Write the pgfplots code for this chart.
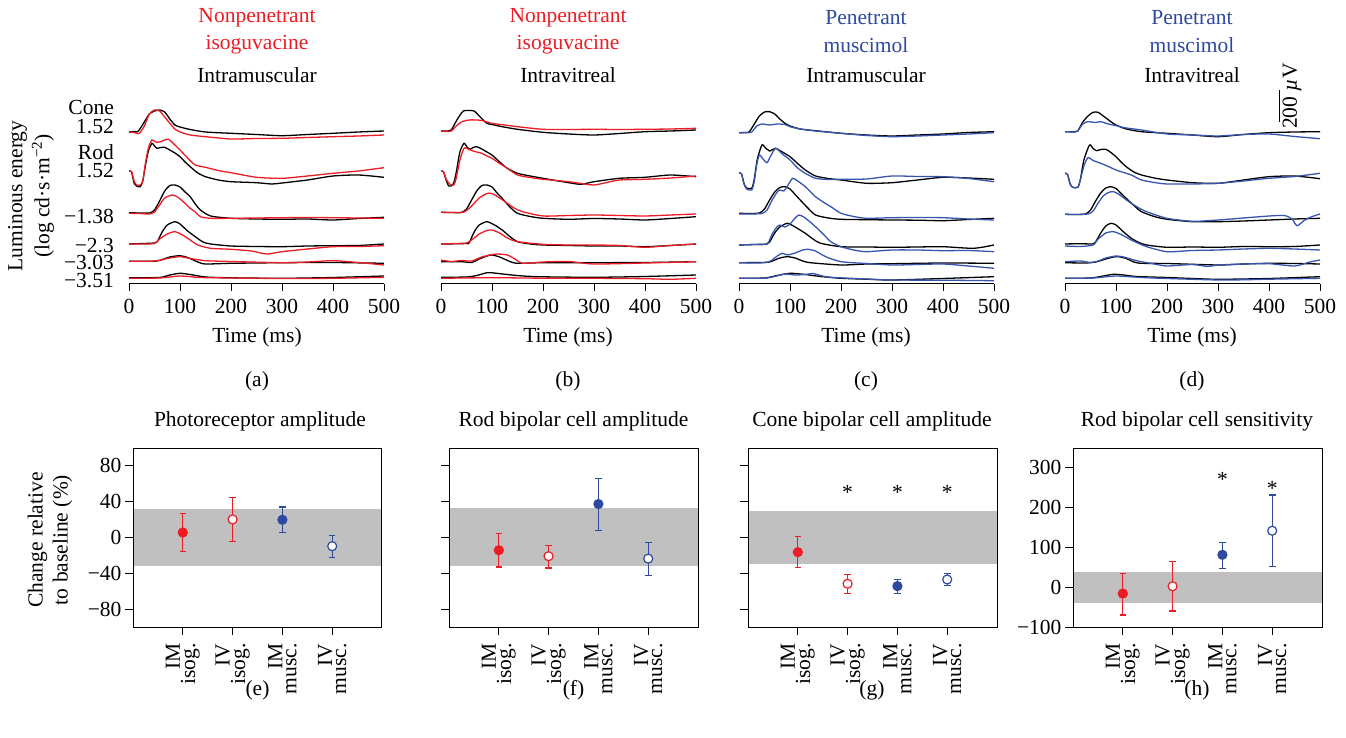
\documentclass[border=0pt]{standalone}
\usepackage{pgfplots}
\pgfplotsset{compat=1.18}
\usepackage{fontspec}
\setmainfont{Liberation Serif}
\definecolor{myred}{RGB}{237,28,36}
\definecolor{myblue}{RGB}{46,74,158}
\definecolor{tblue}{RGB}{55,85,175}
\definecolor{band}{RGB}{192,192,192}
\pgfplotsset{
 toptrace/.style={scale only axis, width=255pt, height=180pt, xmin=0, xmax=500, ymin=0, ymax=180,
   axis x line=bottom, axis y line=none, axis line style={-, line width=1pt},
   xtick={0,100,200,300,400,500}, xticklabels={0,100,200,300,400,500},
   xticklabel style={yshift=-5pt},
   tick align=outside, major tick length=7pt, tick style={line width=1pt, black},
   clip=false, every axis plot/.append style={line width=1.3pt, no marks, smooth, tension=0.4}},
 bottomplot/.style={scale only axis, width=249pt, height=179pt, xmin=0, xmax=5,
   axis on top, axis line style={line width=1pt}, tick style={line width=1pt, black},
   xtick={1,2,3,4}, xticklabels={{IM\\isog.},{IV\\isog.},{IM\\musc.},{IV\\musc.}},
   xticklabel style={rotate=90, anchor=east, align=right, font=\fontsize{21.5}{14}\selectfont},
   xticklabel shift=5pt,
   tick align=outside, major tick length=8pt, tick pos=left, clip=false},
 ebar/.style={only marks, mark=*, mark size=4.5pt, line width=1.2pt,
   error bars/.cd, y dir=both, y explicit,
   error bar style={line width=1.2pt},
   error mark options={rotate=90, mark size=3.3pt, line width=1.2pt}},
 openm/.style={mark options={fill=white}},
}
\begin{document}
\begin{tikzpicture}[x=1pt, y=1pt, font=\fontsize{21.5}{26}\selectfont]
\useasboundingbox (0pt,0pt) rectangle (1346pt,737pt);

% ---------- top titles ----------
\node[myred] at (257pt,719pt) {Nonpenetrant};
\node[myred] at (257pt,692pt) {isoguvacine};
\node at (257pt,662pt) {Intramuscular};
\node[myred] at (568pt,719pt) {Nonpenetrant};
\node[myred] at (568pt,692pt) {isoguvacine};
\node at (568pt,662pt) {Intravitreal};
\node[myblue] at (866pt,719pt) {Penetrant};
\node[myblue] at (866pt,692pt) {muscimol};
\node at (866pt,662pt) {Intramuscular};
\node[myblue] at (1192pt,719pt) {Penetrant};
\node[myblue] at (1192pt,692pt) {muscimol};
\node at (1192pt,662pt) {Intravitreal};

% left labels
\begin{scope}[every node/.style={anchor=east, inner sep=0pt}]
\node at (114pt,630pt) {Cone};
\node at (114pt,610pt) {1.52};
\node at (114pt,585pt) {Rod};
\node at (114pt,566pt) {1.52};
\node at (114pt,520pt) {−1.38};
\node at (114pt,491pt) {−2.3};
\node at (114pt,474pt) {−3.03};
\node at (114pt,456pt) {−3.51};
\end{scope}
\node[rotate=90, align=center, font=\fontsize{21.5}{27}\selectfont] at (31pt,541pt) {Luminous energy\\(log cd·s·m\textsuperscript{−2})};

% x labels
\foreach \cx/\lab in {257/a,568/b,866/c,1192/d}{
  \node at (\cx pt,400pt) {Time (ms)};
  \node at (\cx pt,356pt) {(\lab)};
}
% bottom titles
\node at (260pt,316pt) {Photoreceptor amplitude};
\node at (573.5pt,316pt) {Rod bipolar cell amplitude};
\node at (872pt,316pt) {Cone bipolar cell amplitude};
\node at (1197pt,316pt) {Rod bipolar cell sensitivity};
\foreach \cx/\lab in {257.5/e,573.5/f,872/g,1197/h}{
  \node at (\cx pt,47pt) {(\lab)};
}
\node[rotate=90, align=center, font=\fontsize{21.5}{25}\selectfont] at (50pt,197pt) {Change relative\\to baseline (\%)};

% ================= (a) =================
\begin{axis}[toptrace, at={(129pt,453pt)}, anchor=south west]
\addplot[black] coordinates {(0,152)(10,152.5)(15,152)(20,154)(30,162)(40,170)(50,173)(60,174)(70,172)(80,165)(90,159)(100,157)(120,154.5)(150,152)(200,150.7)(250,149.5)(300,148.3)(350,149.5)(400,150.7)(450,152)(500,153)};
\addplot[myred] coordinates {(0,152)(10,151.5)(20,150.5)(30,158)(40,170)(50,174)(60,173)(70,167)(80,160.7)(90,155)(100,152)(120,149)(150,147.3)(200,145)(250,145.5)(300,145.7)(350,146.5)(400,147.3)(450,148)(500,149)};
\addplot[black] coordinates {(0,113)(5,112)(10,101)(15,98)(22,97.3)(27,103)(32,118)(38,133)(45,140.7)(50,138)(55,135.7)(62,136.5)(70,136.7)(80,134)(90,131)(100,127.3)(110,122)(120,117.3)(135,111)(150,107.3)(175,104)(200,102.3)(250,101.3)(280,100)(300,101)(350,104)(400,108)(450,109)(500,106.7)};
\addplot[myred] coordinates {(0,113)(5,112.5)(10,103)(15,99)(22,99)(27,103)(32,120)(38,136)(45,144)(52,142)(60,142)(70,144)(78,144.7)(90,139)(100,134)(115,126)(130,119)(150,116.7)(175,113.5)(200,111.3)(250,106.7)(300,105.7)(350,108)(400,110.7)(450,113)(480,115)(500,116.3)};
\addplot[black] coordinates {(0,71.3)(20,71)(40,71)(50,74)(60,83)(70,93)(80,98.5)(90,99)(100,97)(110,92)(120,87.3)(130,80)(140,74)(160,68)(200,65.7)(250,65)(300,64.7)(350,65)(400,64)(450,65.5)(500,66.7)};
\addplot[myred] coordinates {(0,70.7)(20,70.5)(40,70)(50,72)(60,79)(70,86)(85,89)(95,87)(105,83)(120,75.7)(130,72)(140,67.3)(160,65.7)(200,65.7)(250,66)(300,66.3)(350,66.5)(400,66.3)(450,66)(500,65.7)};
\addplot[black] coordinates {(0,40)(30,40.5)(50,41)(55,42)(65,52)(75,59)(90,62.3)(100,60)(115,53)(130,47.3)(145,42)(160,40)(200,38)(250,37.5)(300,37.3)(350,38)(400,38.3)(450,38.5)(500,40)};
\addplot[myred] coordinates {(0,40)(30,40)(50,40.5)(60,45)(75,50)(90,52.3)(105,49)(120,44)(135,39)(160,35.7)(200,34.7)(240,33)(270,30)(300,32.3)(350,35)(400,37.3)(450,37.5)(500,38.3)};
\addplot[black] coordinates {(0,22.7)(50,22.7)(60,23.5)(80,27)(100,28.3)(115,26.5)(135,22)(150,20)(200,20.7)(300,21.3)(400,21.5)(500,20.7)};
\addplot[myred] coordinates {(0,22.7)(50,23)(80,26)(100,27.3)(120,25.5)(150,23.3)(200,22.5)(300,21.3)(350,22)(400,23.3)(450,21.5)(500,19)};
\addplot[black] coordinates {(0,6.3)(60,6.5)(80,9)(100,10.7)(120,9.5)(150,7)(200,6.2)(300,5.7)(400,6.5)(500,8)};
\addplot[myred] coordinates {(0,5.7)(60,6)(100,8)(140,6.5)(200,6)(300,5.5)(400,5.7)(500,6.7)};
\end{axis}

% ================= (b) =================
\begin{axis}[toptrace, at={(441pt,453pt)}, anchor=south west]
\addplot[black] coordinates {(0,153)(10,153)(20,154)(30,163)(40,171)(45,173.3)(55,173.5)(65,173)(75,168)(90,160.7)(105,159)(120,157.3)(150,154.7)(200,151.7)(250,150)(300,149)(350,150.5)(400,152.3)(450,153)(500,154)};
\addplot[myred] coordinates {(0,153)(10,152.5)(20,153)(30,158)(40,162)(55,164)(70,164)(80,163.5)(100,160.7)(125,159)(150,157.3)(200,154.7)(250,154.5)(300,154.7)(350,154.5)(400,154.7)(450,155)(500,155.7)};
\addplot[black] coordinates {(0,113.3)(5,112)(10,104)(15,98)(20,98)(25,101)(30,112)(37,132)(45,140.7)(51,137)(57,134.7)(63,136.5)(70,137.3)(80,135)(90,132)(100,129)(115,122)(130,115.7)(150,110.7)(175,108)(200,105.7)(250,101.3)(275,99.7)(300,102.3)(350,105.7)(400,106.7)(450,109)(500,107.3)};
\addplot[myred] coordinates {(0,113.3)(5,112)(10,105)(17,100)(25,99)(30,106)(37,124)(45,135.7)(50,135.7)(60,133.5)(70,132)(80,130.7)(90,128)(100,125.7)(115,120.5)(130,115.7)(150,109)(175,106.5)(200,104.7)(250,102.3)(275,100.5)(300,99)(325,101.5)(350,104)(400,104.7)(450,106)(500,108)};
\addplot[black] coordinates {(0,71.7)(20,71.5)(40,71.5)(50,75)(60,84)(70,93)(80,98.5)(90,99)(100,97)(110,91)(120,85.7)(135,77)(150,70.7)(175,67.5)(200,65.7)(250,64.7)(300,65.5)(350,65)(400,64)(450,65.5)(500,67.3)};
\addplot[myred] coordinates {(0,71.7)(20,71.5)(45,72)(60,78)(75,86)(90,90.5)(100,90.5)(115,86)(130,80.7)(145,75.5)(160,72.3)(200,68)(250,68.5)(300,69)(350,68.5)(400,68)(450,69)(500,70)};
\addplot[black] coordinates {(0,40)(30,40.2)(50,40.5)(55,41)(65,52)(75,59)(90,62.3)(105,59)(120,54)(135,47.5)(150,42.3)(175,40)(200,39)(250,38.5)(300,38)(350,38)(400,37.3)(450,38.5)(500,40)};
\addplot[myred] coordinates {(0,40)(30,40.5)(50,41)(60,44)(75,50)(90,53.5)(100,54)(115,51)(130,46)(150,42.3)(200,39.7)(250,39)(300,39)(350,38.5)(400,36.7)(450,38.5)(500,40)};
\addplot[black] coordinates {(0,22.3)(40,22.3)(60,21.5)(75,25)(90,28)(100,29)(115,27)(135,22.5)(150,20.7)(200,21.3)(300,21.3)(400,21.5)(500,22.3)};
\addplot[myred] coordinates {(0,24)(20,22.5)(40,23.5)(60,23)(80,27)(100,29.5)(110,30)(130,29)(145,25)(160,20.7)(200,22)(250,22.5)(300,20)(400,21)(500,22.3)};
\addplot[black] coordinates {(0,6.7)(50,7)(70,8.5)(90,11.3)(100,11.2)(130,9.5)(160,8)(200,7.2)(300,6.7)(400,7.5)(500,9)};
\addplot[myred] coordinates {(0,5.7)(100,6.3)(200,5.8)(300,5.7)(400,5.3)(450,4.7)(500,5.7)};
\end{axis}

% ================= (c) =================
\begin{axis}[toptrace, at={(739pt,453pt)}, anchor=south west]
\addplot[black] coordinates {(0,151.3)(15,151.5)(20,152)(30,160)(40,168)(50,172)(60,172.3)(70,170)(80,165)(90,160.7)(100,158)(120,155)(150,153.3)(200,150.7)(250,149)(300,148)(350,149)(400,150)(450,151.5)(500,152.3)};
\addplot[tblue] coordinates {(0,151.3)(20,151.3)(25,152)(35,158)(45,160)(60,159)(75,160)(90,159.5)(100,157.3)(120,155)(150,153)(200,150.7)(250,148.5)(300,147.3)(350,148)(400,149)(450,150)(500,151.3)};
\addplot[black] coordinates {(0,111.3)(5,110)(10,100)(15,96)(25,95.7)(30,105)(36,125)(45,139)(52,136)(60,133)(66,134.5)(72,135.7)(85,132)(100,127.3)(115,120.5)(130,114)(150,108)(175,105.5)(200,104)(250,100.7)(300,101.3)(350,104)(400,106.7)(450,106)(500,104.7)};
\addplot[tblue] coordinates {(0,111.3)(5,110)(10,100)(15,95)(25,94)(30,103)(35,120)(40,129)(47,125)(55,121.3)(62,128)(72,135.7)(85,130)(100,124)(115,116)(130,110.7)(150,105.7)(175,104.5)(200,104.7)(250,105)(300,108)(350,107.5)(400,107.3)(450,105.5)(500,102.3)};
\addplot[black] coordinates {(0,70.7)(20,70.5)(40,71)(50,75)(60,84)(70,92)(80,96.5)(90,97.3)(100,95)(110,89.5)(120,84)(135,76)(150,69)(175,66)(200,64.7)(250,64.3)(300,64)(350,63.8)(400,63.3)(450,64.5)(500,65.7)};
\addplot[tblue] coordinates {(0,70)(20,70)(45,70.5)(55,74)(65,84)(75,92)(80,94)(88,93)(95,98)(105,105.7)(115,103)(130,97.3)(150,87.3)(165,82)(180,77.3)(200,70.7)(225,67.5)(250,65.7)(300,66.3)(350,66.5)(400,66.3)(450,65)(500,64)};
\addplot[black] coordinates {(0,39)(30,39.5)(55,40)(60,42)(70,51)(80,57)(95,60.7)(110,57)(130,50.7)(145,45)(160,40.7)(200,37.3)(250,37)(300,36.7)(350,37)(400,37.3)(460,35.7)(500,39)};
\addplot[tblue] coordinates {(0,39)(30,39.5)(55,40)(65,50)(75,57.5)(80,59)(90,57)(100,60)(110,66)(118,69)(130,66)(150,57.3)(165,50)(180,42.3)(200,37.3)(225,34)(250,32.3)(300,34)(350,34)(400,33.3)(450,33.5)(500,32.3)};
\addplot[black] coordinates {(0,21.3)(40,21.5)(60,22)(80,26)(95,27.3)(110,26)(125,23)(140,21.3)(200,19)(250,20)(300,20.3)(400,21)(500,20.7)};
\addplot[tblue] coordinates {(0,21.3)(40,21)(60,22.5)(75,28)(85,30.7)(95,29)(110,31)(125,34)(135,34.7)(150,33)(170,27.3)(200,22.3)(250,20.5)(300,19)(350,19.5)(400,20)(450,18)(500,15.7)};
\addplot[black] coordinates {(0,5.7)(50,6)(75,8.5)(100,10.7)(130,9.5)(160,7.5)(200,5.7)(250,4.8)(300,4)(400,5.5)(500,7.3)};
\addplot[tblue] coordinates {(0,5.7)(50,5.8)(70,7.5)(90,10)(110,9)(130,9.5)(145,10.5)(160,8.5)(180,6.7)(250,5)(300,4)(400,3.8)(500,3.3)};
\end{axis}

% ================= (d) =================
\begin{axis}[toptrace, at={(1065pt,453pt)}, anchor=south west]
\addplot[black] coordinates {(0,152.3)(20,152.3)(25,153)(35,162)(45,168)(55,171.7)(65,171.7)(75,168)(90,162.3)(100,159)(120,155)(150,152.3)(200,150.7)(250,149)(300,147.3)(350,149.5)(400,151.3)(450,152)(500,152.3)};
\addplot[tblue] coordinates {(0,152.3)(20,152)(25,153)(35,160)(45,162.3)(60,161.5)(70,162.3)(85,160)(100,158.3)(120,156)(150,154)(200,150)(250,149)(300,148)(350,149.5)(400,150)(450,147.5)(500,145.3)};
\addplot[black] coordinates {(0,110.7)(5,109.5)(10,100)(15,96.7)(25,96.7)(30,104)(37,124)(48,139)(55,135.5)(62,133.3)(70,134.5)(80,134.7)(90,131.5)(100,127.3)(110,122)(120,117.3)(135,112)(150,109)(175,106)(200,104)(250,101.3)(300,100.7)(350,104)(400,107.3)(450,108)(500,105.3)};
\addplot[tblue] coordinates {(0,110.7)(5,109.5)(10,100)(15,96.7)(25,96.7)(30,104)(37,118)(45,126.3)(55,123.5)(70,120.7)(85,117.5)(100,114)(115,111.5)(130,109)(150,104)(175,101.5)(200,100)(250,100)(300,100.7)(350,103)(400,105.7)(450,107.5)(500,110.7)};
\addplot[black] coordinates {(0,69.7)(20,69.5)(40,70)(50,74)(60,83)(70,91)(80,96)(90,97.3)(100,95.5)(110,90.5)(120,85.7)(135,78.5)(150,72.3)(175,67.5)(200,64.7)(250,62.3)(300,62.3)(350,63)(400,64)(450,65)(500,65.7)};
\addplot[tblue] coordinates {(0,69.7)(20,69.5)(45,70)(55,73)(65,81)(75,88)(85,91.5)(95,92.3)(105,90)(115,86)(130,80.7)(145,76)(160,72.3)(200,65.7)(250,62.7)(300,64)(350,66)(400,68)(430,68.5)(445,65)(455,58.3)(470,64)(485,67.5)(500,70)};
\addplot[black] coordinates {(0,40)(30,40.3)(55,40)(60,42)(70,51)(80,58)(90,60.7)(100,59)(115,52)(130,45.7)(145,41.5)(160,39)(200,36.7)(250,37)(300,36.7)(350,37.5)(400,37.3)(450,37.5)(500,39)};
\addplot[tblue] coordinates {(0,38)(30,37.5)(55,39)(65,45)(80,51)(95,52.3)(110,49.5)(130,44)(145,40.5)(160,37.3)(200,32.3)(250,33.5)(300,34)(350,35)(400,35.7)(450,35)(500,34)};
\addplot[black] coordinates {(0,21.3)(40,21)(60,22)(80,25)(95,27)(105,27.3)(120,25.5)(135,22)(150,20.7)(200,20.5)(300,19)(350,20)(400,20.7)(450,20.5)(500,20)};
\addplot[tblue] coordinates {(0,22.3)(30,23)(50,21.5)(65,23)(80,26)(100,28)(115,27)(135,24)(150,22.3)(175,20)(200,18)(250,19.5)(280,17.5)(300,19)(350,20)(400,20.3)(450,18)(480,22)(500,24)};
\addplot[black] coordinates {(0,5.7)(50,6)(75,8)(95,9.7)(115,9)(140,7.5)(200,6.5)(250,5.5)(300,4.7)(400,5.5)(500,7.3)};
\addplot[tblue] coordinates {(0,5.7)(50,5.8)(80,7.2)(100,8)(120,7.5)(150,6.5)(200,5.5)(300,4)(350,4.2)(400,4.8)(500,5.7)};
\draw[line width=1.2pt] (axis cs:420,162) -- (axis cs:420,194);
\node[rotate=90] at (axis cs:445,188) {200 \textit{µ}V};
\end{axis}

% ================= (e) =================
\begin{axis}[bottomplot, at={(133pt,110pt)}, anchor=south west, ymin=-100, ymax=100,
  ytick={-80,-40,0,40,80}, yticklabels={−80,−40,0,40,80}]
\addplot[draw=none, fill=band] coordinates {(0,-31.4)(5,-31.4)(5,31.4)(0,31.4)} -- cycle;
\addplot[myred, ebar] coordinates {(1,5.6) += (0,20.9) -= (0,20.9)};
\addplot[myred, openm, ebar] coordinates {(2,20.2) += (0,24.3) -= (0,25.1)};
\addplot[myblue, ebar] coordinates {(3,19.8) += (0,14.2) -= (0,14.6)};
\addplot[myblue, openm, ebar] coordinates {(4,-9.7) += (0,12.3) -= (0,12.3)};
\end{axis}

% ================= (f) =================
\begin{axis}[bottomplot, at={(449pt,110pt)}, anchor=south west, ymin=-100, ymax=100,
  ytick={-80,-40,0,40,80}, yticklabels={}]
\addplot[draw=none, fill=band] coordinates {(0,-32.1)(5,-32.1)(5,32.5)(0,32.5)} -- cycle;
\addplot[myred, ebar] coordinates {(1,-14.2) += (0,18.7) -= (0,18.7)};
\addplot[myred, openm, ebar] coordinates {(2,-20.9) += (0,12.3) -= (0,13.1)};
\addplot[myblue, ebar] coordinates {(3,37.4) += (0,28.8) -= (0,29.2)};
\addplot[myblue, openm, ebar] coordinates {(4,-23.6) += (0,18.4) -= (0,18.6)};
\end{axis}

% ================= (g) =================
\begin{axis}[bottomplot, at={(748pt,110pt)}, anchor=south west, ymin=-100, ymax=100,
  ytick={-80,-40,0,40,80}, yticklabels={}]
\addplot[draw=none, fill=band] coordinates {(0,-29.8)(5,-29.8)(5,29.8)(0,29.8)} -- cycle;
\addplot[myred, ebar] coordinates {(1,-16.4) += (0,17.1) -= (0,17.1)};
\addplot[myred, openm, ebar] coordinates {(2,-51.7) += (0,10.8) -= (0,10.8)};
\addplot[myblue, ebar] coordinates {(3,-54.3) += (0,7.8) -= (0,8.2)};
\addplot[myblue, openm, ebar] coordinates {(4,-46.9) += (0,6.7) -= (0,7.1)};
\node at (axis cs:2,50) {*};
\node at (axis cs:3,50) {*};
\node at (axis cs:4,50) {*};
\end{axis}

% ================= (h) =================
\begin{axis}[bottomplot, at={(1073pt,110pt)}, anchor=south west, ymin=-100, ymax=350,
  ytick={-100,0,100,200,300}, yticklabels={−100,0,100,200,300}]
\addplot[draw=none, fill=band] coordinates {(0,-39.5)(5,-39.5)(5,39.5)(0,39.5)} -- cycle;
\addplot[myred, ebar] coordinates {(1,-16) += (0,51.3) -= (0,53.7)};
\addplot[myred, openm, ebar] coordinates {(2,2.5) += (0,61.4) -= (0,62.2)};
\addplot[myblue, ebar] coordinates {(3,81.5) += (0,31.9) -= (0,33.6)};
\addplot[myblue, openm, ebar] coordinates {(4,142) += (0,90) -= (0,90.7)};
\node at (axis cs:3,272) {*};
\node at (axis cs:4,248) {*};
\end{axis}
\end{tikzpicture}
\end{document}
